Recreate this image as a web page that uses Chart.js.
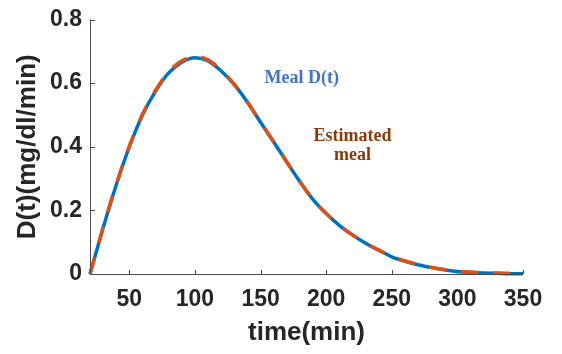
<!DOCTYPE html>
<html>
<head>
<meta charset="utf-8">
<script src="https://cdn.jsdelivr.net/npm/chart.js@4/dist/chart.umd.min.js"></script>
<style>
  html, body { margin: 0; padding: 0; background: #fff; }
  #wrap { width: 562px; height: 354px; position: relative; }
</style>
</head>
<body>
<div id="wrap"><canvas id="c" width="562" height="354"></canvas></div>
<script>
// ---- data ----
const times = [20, 30, 40, 50, 60, 70, 80, 90, 100, 110, 120, 130, 140, 150, 160, 170, 180, 190, 200,
               210, 220, 230, 240, 250, 260, 270, 280, 290, 300, 310, 320, 330, 340, 350];
const mealD = [0, 0.145, 0.28, 0.40, 0.50, 0.575, 0.632, 0.666, 0.680, 0.670, 0.638, 0.595, 0.540, 0.477,
               0.415, 0.352, 0.290, 0.234, 0.190, 0.153, 0.123, 0.097, 0.075, 0.054, 0.040, 0.029,
               0.020, 0.013, 0.008, 0.005, 0.003, 0.002, 0.001, 0.001];
const estimatedMeal = [0, 0.146, 0.282, 0.402, 0.502, 0.578, 0.636, 0.670, 0.684, 0.673, 0.640, 0.596, 0.541, 0.477,
               0.415, 0.352, 0.290, 0.234, 0.190, 0.153, 0.123, 0.097, 0.075, 0.055, 0.041, 0.030,
               0.021, 0.014, 0.009, 0.006, 0.004, 0.003, 0.002, 0.002];
const xTicks = [50, 100, 150, 200, 250, 300, 350];
const yTicks = [0, 0.2, 0.4, 0.6, 0.8];
const yTickLabels = ["0", "0.2", "0.4", "0.6", "0.8"];
const xTitle = "time(min)";
const yTitle = "D(t)(mg/dl/min)";
const notes = [
  { text: "Meal D(t)", x: 181.3, y: 0.599, color: "#4472C4" },
  { text: "Estimated", x: 220, y: 0.419, color: "#843C0C" },
  { text: "meal", x: 220, y: 0.357, color: "#843C0C" }
];

const axisColor = "#4a4a4a";
const textColor = "#262626";

const inwardTicks = {
  id: "inwardTicks",
  afterDraw(chart) {
    const ctx = chart.ctx;
    const xs = chart.scales.x, ys = chart.scales.y;
    const a = chart.chartArea;
    ctx.save();
    ctx.strokeStyle = axisColor;
    ctx.lineWidth = 1;
    ctx.beginPath();
    // axis lines
    ctx.moveTo(a.left + 0.5, a.top);
    ctx.lineTo(a.left + 0.5, a.bottom + 0.5);
    ctx.lineTo(a.right, a.bottom + 0.5);
    xTicks.forEach(v => {
      const px = Math.round(xs.getPixelForValue(v)) + 0.5;
      ctx.moveTo(px, a.bottom);
      ctx.lineTo(px, a.bottom - 4);
    });
    yTicks.forEach(v => {
      const py = Math.round(ys.getPixelForValue(v)) + 0.5;
      ctx.moveTo(a.left, py);
      ctx.lineTo(a.left + 5, py);
    });
    ctx.stroke();
    ctx.restore();
  }
};

const notesPlugin = {
  id: "notes",
  afterDatasetsDraw(chart) {
    const ctx = chart.ctx;
    const xs = chart.scales.x, ys = chart.scales.y;
    ctx.save();
    ctx.font = "bold 18px 'Liberation Serif', 'Times New Roman', serif";
    ctx.textAlign = "center";
    ctx.textBaseline = "alphabetic";
    notes.forEach(n => {
      ctx.fillStyle = n.color;
      ctx.fillText(n.text, xs.getPixelForValue(n.x), ys.getPixelForValue(n.y));
    });
    ctx.restore();
  }
};

const sansFamily = "'Liberation Sans', Arial, Helvetica, sans-serif";

new Chart(document.getElementById("c"), {
  type: "line",
  data: {
    datasets: [
      {
        label: "Meal D(t)",
        data: times.map((t, i) => ({ x: t, y: mealD[i] })),
        borderColor: "#0072BD",
        borderWidth: 3.5,
        pointRadius: 0,
        cubicInterpolationMode: "monotone",
        fill: false,
        order: 2,
        clip: false
      },
      {
        label: "Estimated meal",
        data: times.map((t, i) => ({ x: t, y: estimatedMeal[i] })),
        borderColor: "#D95319",
        borderWidth: 3.5,
        borderDash: [17, 15],
        pointRadius: 0,
        cubicInterpolationMode: "monotone",
        fill: false,
        order: 1,
        clip: false
      }
    ]
  },
  options: {
    responsive: false,
    animation: false,
    events: [],
    layout: { padding: { left: 0, right: 39, top: 12, bottom: 0 } },
    plugins: { legend: { display: false }, tooltip: { enabled: false } },
    scales: {
      x: {
        type: "linear",
        min: 20, max: 350,
        afterBuildTicks: s => { s.ticks = xTicks.map(v => ({ value: v })); },
        afterFit: s => { s.height = 80; },
        grid: { display: false, drawTicks: false },
        border: { display: false },
        ticks: {
          color: textColor,
          padding: 14,
          maxRotation: 0,
          font: { family: sansFamily, size: 23, weight: "bold", lineHeight: 1 },
          callback: v => String(v)
        },
        title: {
          display: true,
          text: xTitle,
          color: textColor,
          padding: { top: 0, bottom: 8 },
          font: { family: sansFamily, size: 26, weight: "bold", lineHeight: 1 }
        }
      },
      y: {
        type: "linear",
        min: 0, max: 0.8,
        afterBuildTicks: s => { s.ticks = yTicks.map(v => ({ value: v })); },
        afterFit: s => { s.width = 90; },
        grid: { display: false, drawTicks: false },
        border: { display: false },
        ticks: {
          color: textColor,
          padding: 8,
          font: { family: sansFamily, size: 23, weight: "bold", lineHeight: 1 },
          callback: (v) => { const i = yTicks.findIndex(t => Math.abs(t - v) < 1e-9); return i >= 0 ? yTickLabels[i] : ""; }
        },
        title: {
          display: true,
          text: yTitle,
          color: textColor,
          padding: { top: 15, bottom: 0 },
          font: { family: sansFamily, size: 26, weight: "bold", lineHeight: 1 }
        }
      }
    }
  },
  plugins: [inwardTicks, notesPlugin]
});
</script>
</body>
</html>
